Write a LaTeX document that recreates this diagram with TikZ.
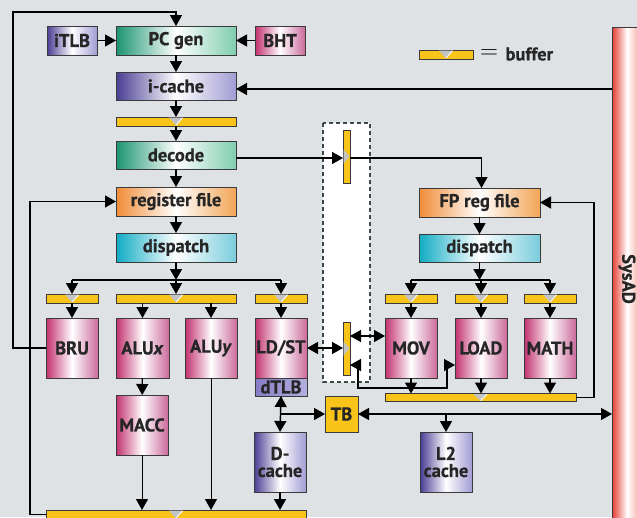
\documentclass[tikz,border=0pt]{standalone}
\usepackage{fontspec}
\setmainfont{PT Sans}[BoldFont={PT Sans Bold},ItalicFont={PT Sans Italic},BoldItalicFont={PT Sans Bold Italic},BoldFeatures={FakeBold=0.6},BoldItalicFeatures={FakeBold=0.6}]
\usetikzlibrary{arrows.meta,calc}
\definecolor{bgc}{HTML}{DFE2E5}
\definecolor{txt}{HTML}{262626}
\definecolor{edgec}{HTML}{3A3A3A}
\definecolor{grL}{HTML}{1A9470}
\definecolor{grR}{HTML}{80CDB0}
\definecolor{puL}{HTML}{4A3D94}
\definecolor{puR}{HTML}{A39CD4}
\definecolor{mgL}{HTML}{C2306E}
\definecolor{mgR}{HTML}{CC6A9C}
\definecolor{orL}{HTML}{F08C36}
\definecolor{orR}{HTML}{F2A456}
\definecolor{cyL}{HTML}{10ACC4}
\definecolor{cyR}{HTML}{7ACDDC}
\definecolor{bufc}{HTML}{F8C41A}
\definecolor{notchc}{HTML}{C4C4C4}
\definecolor{sysL}{HTML}{E53C32}
\definecolor{sysR}{HTML}{F4A096}
\definecolor{dashc}{HTML}{3A4A48}
\definecolor{tlbL}{HTML}{857CC4}
\definecolor{tlbR}{HTML}{B6B0E0}
\begin{document}
\begin{tikzpicture}[x=1pt,y=-1pt,
  every node/.style={font=\fontsize{18.5}{17}\selectfont\bfseries, text=txt},
  blk/.style={draw=edgec, line width=0.9pt, inner sep=0pt, outer sep=0pt, align=center},
  wide/.style={blk, minimum width=120pt, minimum height=29pt},
  unit/.style={blk, minimum width=52pt, minimum height=60pt},
  green/.style={left color=grL, right color=grR, middle color=white},
  purple/.style={left color=puL, right color=puR, middle color=white},
  magenta/.style={left color=mgL, right color=mgR, middle color=white},
  orange/.style={left color=orL, right color=orR, middle color=white},
  cyan/.style={left color=cyL, right color=cyR, middle color=white},
  buf/.style={draw=edgec, fill=bufc, line width=0.8pt, minimum height=9pt, inner sep=0pt, outer sep=0pt},
  vbuf/.style={draw=edgec, fill=bufc, line width=0.8pt, minimum width=7pt, minimum height=53pt, inner sep=0pt, outer sep=0pt},
  conn/.style={line width=1.4pt, draw=black},
  thin/.style={line width=1pt, draw=black},
  >={Triangle[length=11pt,width=12pt]}
]
\useasboundingbox (0,0) rectangle (637,517);
\clip (0,0) rectangle (637,517);
\fill[bgc] (0,0) rectangle (637,517);

% dashed box
\draw[dashc, fill=white, line width=1.2pt, dash pattern=on 4pt off 3pt] (323,123) rectangle (370,382);

% SysAD bar
\node[blk, left color=sysL, right color=sysR, middle color=white, minimum width=30pt, minimum height=495pt, anchor=north west] (sys) at (612,27) {};
\node[rotate=-90] (systxt) at (627,279) {SysAD};

% front end
\node[wide, purple, minimum width=50pt] (itlb) at (72,40.5) {iTLB};
\node[wide, green] (pc) at (176,40.5) {PC gen};
\node[wide, magenta, minimum width=50pt] (bht) at (280,40.5) {BHT};
\node[wide, purple, minimum height=28pt] (ic) at (176,86) {i-cache};
\node[buf, minimum width=120pt] (b1) at (176,121.5) {};
\node[wide, green, minimum height=28pt] (dec) at (176,155) {decode};
\node[wide, orange] (rf) at (176,201.5) {register file};
\node[wide, cyan] (disp) at (176,247.5) {dispatch};

% integer buffers and units
\node[buf, minimum width=52pt] (bbru) at (72,298.5) {};
\node[buf, minimum width=120pt] (balu) at (176,298.5) {};
\node[buf, minimum width=52pt] (bls) at (281,298.5) {};
\node[unit, magenta] (bru) at (72,348) {BRU};
\node[unit, magenta, minimum width=53pt] (alux) at (142.5,348) {ALU\textit{x}};
\node[unit, magenta] (aluy) at (211,348) {ALU\textit{y}};
\node[unit, magenta] (ldst) at (281,348) {LD/ST};
\node[blk, left color=tlbL, right color=tlbR, minimum width=52pt, minimum height=18pt] (dtlb) at (281,387) {dTLB};
\node[unit, magenta] (macc) at (142,425) {MACC};
\node[unit, purple] (dc) at (280,462) {D-\\cache};
\node[buf, minimum width=260pt] (bbot) at (176,514.5) {};

% vertical buffers
\node[vbuf] (vb1) at (346.5,156.5) {};
\node[vbuf] (vb2) at (346.5,348.5) {};

% FP side
\node[wide, orange, minimum width=121pt] (fprf) at (479.5,202.5) {FP reg file};
\node[wide, cyan, minimum width=121pt, minimum height=28pt] (fpd) at (479.5,248) {dispatch};
\node[buf, minimum width=52pt] (bmov) at (411,298.5) {};
\node[buf, minimum width=52pt] (bload) at (481,298.5) {};
\node[buf, minimum width=52pt] (bmath) at (550,298.5) {};
\node[unit, magenta] (mov) at (411,348) {MOV};
\node[unit, magenta] (load) at (481,348) {LOAD};
\node[unit, magenta] (math) at (550,348) {MATH};
\node[buf, minimum width=191pt, minimum height=8pt] (fbot) at (480.5,397.5) {};
\node[blk, fill=bufc, minimum width=33pt, minimum height=36pt] (tb) at (341.5,414) {TB};
\node[unit, purple] (l2) at (446,462) {L2\\cache};

% legend
\node[buf, minimum width=54pt] (lb) at (446,54.5) {};
\node[font=\fontsize{30}{30}\selectfont, text=black] (eq) at (489,54) {$=$};
\node[anchor=west] (lbt) at (502,54) {buffer};

% notches
\foreach \b in {b1,bbru,balu,bls,bbot,bmov,bload,bmath,fbot,lb}{
  \fill[notchc] ($(\b.north)+(-7,0.6)$) -- ($(\b.north)+(7,0.6)$) -- ($(\b.south)+(0,-0.6)$) -- cycle;
  \draw[white, line width=0.8pt] ($(\b.south)+(0,-0.8)$) -- ($(\b.north)+(6.5,0.8)$);
}
\foreach \b in {vb1,vb2}{
  \fill[notchc] ($(\b.west)+(0.6,-7)$) -- ($(\b.west)+(0.6,7)$) -- ($(\b.east)+(-0.6,0)$) -- cycle;
}

% front-end connectors
\coordinate (tl) at (13,12);
\draw[conn,->] (bru.west) -| (tl) -| (pc.north);
\draw[conn,->] (itlb) -- (pc);
\draw[conn,->] (bht) -- (pc);
\draw[conn,->] (pc) -- (ic);
\draw[conn,->] (ic) -- (b1);
\draw[conn,->] (b1) -- (dec);
\draw[conn,->] (dec) -- (rf);
\draw[conn,->] (rf) -- (disp);
\draw[conn,->] ([yshift=-3pt]sys.west |- ic.east) -- ([yshift=-3pt]ic.east);
\draw[conn,->] ([yshift=-3pt]dec.east) -- ([yshift=-3pt]dec.east -| vb1.west);
\draw[conn,->] ([yshift=-3pt]dec.east -| vb1.east) -| ([xshift=2pt]fprf.north);
\coordinate (lr) at (30,514.5);
\draw[conn,->] (bbot.west) -- (lr) |- (rf.west);

% integer dispatch
\coordinate (dj) at ($(disp.south)+(0,18)$);
\draw[conn,->] (disp) -- (dj);
\draw[conn] (bbru.north |- dj) -- (bls.north |- dj);
\foreach \b in {bbru,balu,bls}{\draw[conn,->] (\b.north |- dj) -- (\b.north);}
\draw[conn,->] (bbru) -- (bru);
\draw[conn,->] (balu.south -| alux.north) -- (alux.north);
\draw[conn,->] (balu.south -| aluy.north) -- (aluy.north);
\draw[conn,->] (bls) -- (ldst);
\draw[conn,->] (alux) -- (macc);
\draw[thin,->] (macc.south) -- (macc.south |- bbot.north);
\draw[thin,->] (aluy.south) -- (aluy.south |- bbot.north);
\draw[conn,->] (dc.south) -- (dc.south |- bbot.north);
\draw[conn,<->] (dtlb.south) -- (dc.north);
\draw[conn,->] ($(dtlb.south)!0.5!(dc.north)$) -- (tb.west);

% buffer exchange
\draw[conn,<->] (ldst.east) -- (ldst.east -| vb2.west);
\draw[conn,<->] ([yshift=12pt]mov.west -| vb2.east) -- ([yshift=12pt]mov.west);
\coordinate (q1) at (358,388);
\coordinate (q2) at (447,388);
\draw[conn,<->] ([yshift=-17pt]load.west -| vb2.east) -| (q1) -- (q2) |- ([yshift=-17pt]load.west);

% FP dispatch
\coordinate (fj) at ($(fpd.south)+(0,18)$);
\draw[conn,->] (fprf) -- (fpd);
\draw[conn,->] (fpd) -- (fj);
\draw[conn] (bmov.north |- fj) -- (bmath.north |- fj);
\foreach \b/\u in {bmov/mov,bload/load,bmath/math}{
  \draw[conn,->] (\b.north |- fj) -- (\b.north);
  \draw[conn,->] (\b) -- (\u);
  \draw[conn,->] (\u.south) -- (\u.south |- fbot.north);
}
\coordinate (fr) at (594,397.5);
\draw[conn,->] (fbot.east) -- (fr) |- (fprf.east);

% TB, L2, SysAD
\draw[conn,<->] (tb.east) -- (tb.east -| sys.west);
\draw[conn,->] (l2.north |- tb.east) -- (l2.north);
\end{tikzpicture}
\end{document}
